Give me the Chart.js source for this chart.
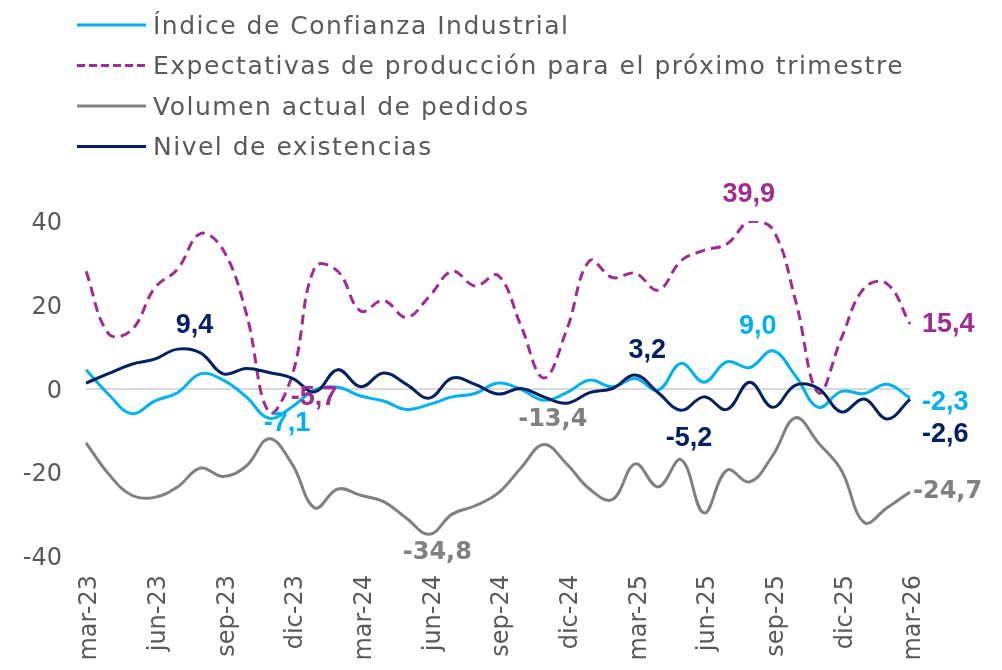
<!DOCTYPE html>
<html lang="es">
<head>
<meta charset="utf-8">
<title>Confianza industrial</title>
<script src="https://cdn.jsdelivr.net/npm/chart.js@4.4.1/dist/chart.umd.min.js"></script>
<style>
  html, body { margin: 0; padding: 0; background: #fff; }
  #wrap { width: 1002px; height: 670px; }
</style>
</head>
<body>
<div id="wrap"><canvas id="chart" width="1002" height="670"></canvas></div>
<script>
// Datos mensuales mar-23 a mar-26
const months = [
  'mar-23', 'abr-23', 'may-23', 'jun-23', 'jul-23', 'ago-23', 'sep-23', 'oct-23', 'nov-23', 'dic-23',
  'ene-24', 'feb-24', 'mar-24', 'abr-24', 'may-24', 'jun-24', 'jul-24', 'ago-24', 'sep-24', 'oct-24', 'nov-24', 'dic-24',
  'ene-25', 'feb-25', 'mar-25', 'abr-25', 'may-25', 'jun-25', 'jul-25', 'ago-25', 'sep-25', 'oct-25', 'nov-25', 'dic-25',
  'ene-26', 'feb-26', 'mar-26'
];
const yTicks = [-40, -20, 0, 20, 40];

const confianza = [4.5, -1.5, -6, -3, -1, 3.5, 2, -2, -7.1, -4.4, -0.3, 0.3, -1.8, -3, -5, -3.8, -2, -1.2, 1.3, -0.2, -2.8, -1,
  2, 0.4, 2.4, -0.4, 6, 1.5, 6.4, 5, 9.0, 3, -4.5, -0.7, -1.2, 1, -2.3];
const expectativas = [28, 13, 14, 24, 28.5, 37, 33, 18, -5.7, 3, 29, 28, 18.5, 21, 17, 22, 28, 24.5, 27, 15, 2.5, 14,
  30.5, 26.5, 27.5, 23.5, 30.5, 33, 34.5, 39.9, 38, 21, -1, 12, 24, 25, 15.4];
const pedidos = [-13, -20.5, -25.5, -26, -23.5, -19, -21, -18.5, -12, -18, -28.5, -24, -25.5, -27, -31, -34.8, -30, -28, -25, -19, -13.4, -18,
  -24, -26.5, -18, -23.5, -17, -29.7, -19.5, -22.3, -16, -7, -13, -19.5, -32, -28.5, -24.7];
const existencias = [1.3, 3.6, 5.8, 7, 9.4, 8.5, 3.5, 4.8, 3.8, 2.5, -0.8, 4.5, 0.4, 3.7, 1, -2.3, 2.5, 1, -1.3, 0, -2, -3.5,
  -1, 0, 3.2, -1, -5.2, -2, -5, 1.5, -4.5, 0.8, 0, -5.6, -2.5, -7.3, -2.6];

// Etiquetas de datos: serie, índice y desplazamiento respecto al punto
const dataLabels = [
  { ds: 3, i: 4, dx: 17, dy: -24 },
  { ds: 3, i: 24, dx: 12, dy: -25 },
  { ds: 3, i: 26, dx: 8, dy: 28 },
  { ds: 3, i: 36, dx: 12, dy: 35, align: 'left' },
  { ds: 0, i: 8, dx: 18, dy: 5 },
  { ds: 0, i: 30, dx: -15, dy: -24 },
  { ds: 0, i: 36, dx: 12, dy: 4, align: 'left' },
  { ds: 1, i: 8, dx: 45, dy: -15 },
  { ds: 1, i: 29, dx: -1, dy: -27 },
  { ds: 1, i: 36, dx: 12, dy: 1, align: 'left' },
  { ds: 2, i: 15, dx: 8, dy: 19 },
  { ds: 2, i: 20, dx: 9, dy: -25 },
  { ds: 2, i: 36, dx: 3, dy: 0, align: 'left' }
];

const fmt = v => v.toFixed(1).replace('.', ',');

// Leyenda en cuatro filas arriba a la izquierda
const legendPlugin = {
  id: 'topLegend',
  afterDraw(chart) {
    const ctx = chart.ctx;
    ctx.save();
    ctx.font = '25px "DejaVu Sans"';
    ctx.textBaseline = 'middle';
    ctx.lineWidth = 3;
    chart.data.datasets.forEach((ds, k) => {
      const y = 25 + k * 40.5;
      ctx.beginPath();
      ctx.setLineDash(ds.borderDash ? [8, 4] : []);
      ctx.strokeStyle = ds.borderColor;
      ctx.moveTo(77, y);
      ctx.lineTo(146, y);
      ctx.stroke();
      ctx.setLineDash([]);
      ctx.fillStyle = '#595959';
      ctx.letterSpacing = '1.5px';
      ctx.fillText(ds.label, 153, y + 2);
      ctx.letterSpacing = '0px';
    });
    ctx.restore();
  }
};

// Etiquetas de valores
const labelsPlugin = {
  id: 'valueLabels',
  afterDatasetsDraw(chart) {
    const ctx = chart.ctx;
    ctx.save();
    ctx.textBaseline = 'middle';
    dataLabels.forEach(l => {
      const ds = chart.data.datasets[l.ds];
      const pt = chart.getDatasetMeta(l.ds).data[l.i];
      ctx.font = l.ds === 2 ? 'bold 24px "DejaVu Sans"' : 'bold 27px "Liberation Sans"';
      ctx.fillStyle = ds.borderColor;
      ctx.textAlign = l.align || 'center';
      ctx.fillText(fmt(ds.data[l.i]), pt.x + l.dx, pt.y + l.dy);
    });
    ctx.restore();
  }
};

const tickFont = { family: '"DejaVu Sans"', size: 24 };

new Chart(document.getElementById('chart'), {
  type: 'line',
  data: {
    labels: months,
    datasets: [
      { label: 'Índice de Confianza Industrial', data: confianza, borderColor: '#00B0F0', order: 4 },
      { label: 'Expectativas de producción para el próximo trimestre', data: expectativas, borderColor: '#A02B93', borderDash: [10, 6], order: 3 },
      { label: 'Volumen actual de pedidos', data: pedidos, borderColor: '#808080', order: 2 },
      { label: 'Nivel de existencias', data: existencias, borderColor: '#002060', order: 1 }
    ]
  },
  options: {
    responsive: false,
    devicePixelRatio: 1,
    animation: false,
    layout: { padding: { top: 221, right: 92, bottom: 0, left: 0 } },
    elements: {
      point: { radius: 0 },
      line: { tension: 0.4, borderWidth: 3, fill: false, borderJoinStyle: 'round' }
    },
    plugins: {
      legend: { display: false },
      tooltip: { enabled: false }
    },
    scales: {
      x: {
        grid: { display: false, drawTicks: false },
        border: { display: false },
        ticks: {
          autoSkip: false,
          maxRotation: 90,
          minRotation: 90,
          padding: 19,
          labelOffset: 4,
          color: '#595959',
          font: tickFont,
          callback: (v, i) => (i % 3 === 0 ? months[i] : '')
        },
        afterFit: s => { s.height = 114; }
      },
      y: {
        min: yTicks[0],
        max: yTicks[yTicks.length - 1],
        afterBuildTicks: s => { s.ticks = yTicks.map(v => ({ value: v })); },
        ticks: {
          padding: 24,
          labelOffset: 3,
          color: '#595959',
          font: tickFont,
          callback: v => String(v)
        },
        grid: {
          drawTicks: false,
          lineWidth: 2,
          color: c => (c.tick && c.tick.value === 0 ? '#D9D9D9' : 'rgba(0,0,0,0)')
        },
        border: { display: false },
        afterFit: s => { s.width = 86; }
      }
    }
  },
  plugins: [legendPlugin, labelsPlugin]
});
</script>
</body>
</html>
